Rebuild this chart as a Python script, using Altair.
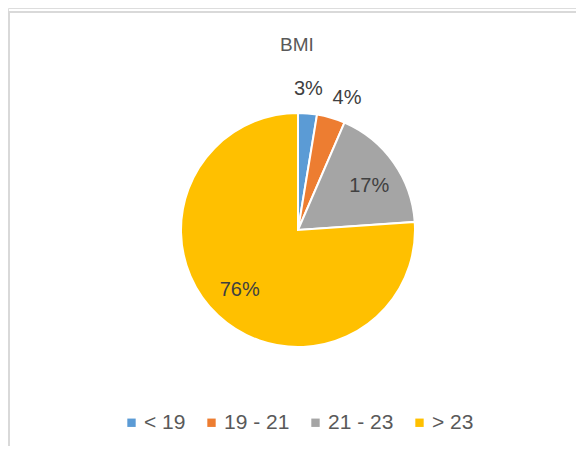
import altair as alt
import pandas as pd

categories = ["< 19", "19 - 21", "21 - 23", "> 23"]
values = [2.6, 3.9, 17.4, 76.1]
labels = ["3%", "4%", "17%", "76%"]
colors = ["#5B9BD5", "#ED7D31", "#A5A5A5", "#FFC000"]
label_radius = [140, 142, 86, 84]
order = [0, 1, 2, 3]

df = pd.DataFrame({
    "cat": categories,
    "val": values,
    "lab": labels,
    "lr": label_radius,
    "ord": order,
})

FONT = "Liberation Sans"
CX, CY = 290, 222

arcs = alt.Chart(df).mark_arc(outerRadius=117, stroke="white", strokeWidth=2).encode(
    theta=alt.Theta("val:Q", stack=True, scale=alt.Scale(domain=[0, 100])),
    order=alt.Order("ord:Q", sort="ascending"),
    x=alt.value(CX),
    y=alt.value(CY),
    color=alt.Color(
        "cat:N",
        scale=alt.Scale(domain=categories, range=colors),
        sort=categories,
        legend=alt.Legend(
            title=None,
            orient="none",
            legendX=113,
            legendY=404,
            direction="horizontal",
            symbolType="square",
            symbolSize=70,
            symbolStrokeWidth=0,
            labelFont=FONT,
            labelFontSize=21,
            labelColor="#595959",
            columnPadding=15,
            labelOffset=2,
        ),
    ),
)


def label_layer(sel, dx=0, dy=0):
    return alt.Chart(df).transform_window(
        cum="sum(val)", sort=[alt.SortField("ord", order="ascending")]
    ).transform_calculate(
        mid="datum.cum - datum.val / 2"
    ).transform_filter(
        alt.FieldOneOfPredicate(field="lab", oneOf=sel)
    ).mark_text(
        font=FONT, fontSize=20, color="#404040", baseline="middle", align="center", dx=dx, dy=dy
    ).encode(
        theta=alt.Theta("mid:Q", stack=False, scale=alt.Scale(domain=[0, 100])),
        x=alt.value(CX),
        y=alt.value(CY),
        radius=alt.Radius("lr:Q", scale=None),
        text="lab:N",
    )


texts_a = label_layer(["3%", "76%"], dx=-1, dy=-1)
texts_b = label_layer(["4%"], dx=9, dy=4)
texts_c = label_layer(["17%"], dx=1, dy=6)

title = alt.Chart(pd.DataFrame({"t": ["BMI"]})).mark_text(
    font=FONT, fontSize=19, color="#595959", baseline="middle", align="center"
).encode(text="t:N", x=alt.value(289), y=alt.value(37))

border_df = pd.DataFrame({"a": [0]})
top_line = alt.Chart(border_df).mark_rule(color="#D9D9D9", strokeWidth=2).encode(
    x=alt.value(0), x2=alt.value(568), y=alt.value(4)
)
left_line = alt.Chart(border_df).mark_rule(color="#D9D9D9", strokeWidth=2).encode(
    x=alt.value(1), y=alt.value(3), y2=alt.value(438)
)

chart = alt.layer(top_line, left_line, arcs, texts_a, texts_b, texts_c, title).properties(
    width=568,
    height=438,
    padding=0,
    autosize=alt.AutoSizeParams(type="none"),
).configure_view(stroke=None).configure(background="white")

chart.save("out.html", embed_options={"renderer": "svg", "actions": False})
